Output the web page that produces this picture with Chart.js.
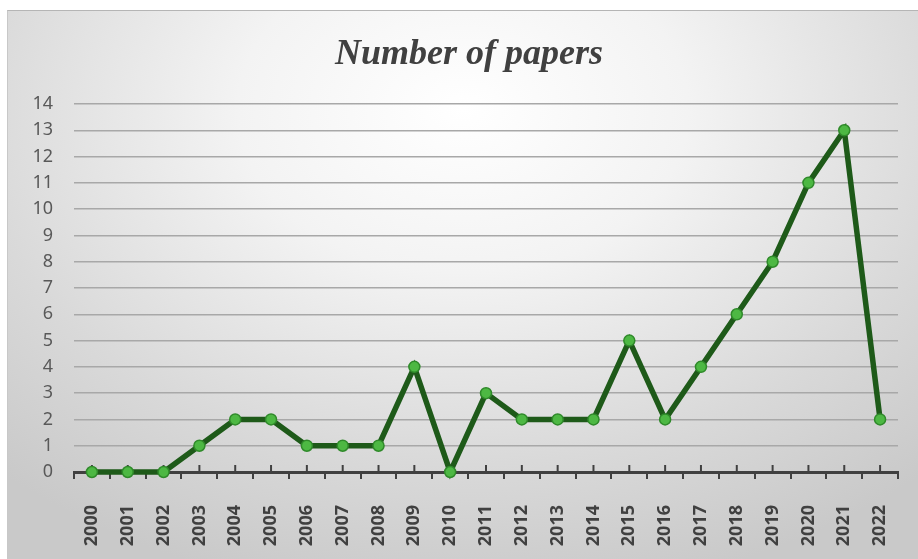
<!DOCTYPE html>
<html>
<head>
<meta charset="utf-8">
<script src="https://cdn.jsdelivr.net/npm/chart.js@4.4.1/dist/chart.umd.min.js"></script>
<style>
  body { margin: 0; background: #fff; }
  #box {
    position: absolute; left: 7px; top: 10px; width: 911px; height: 549px;
    border-top: 1px solid #b5b5b5; border-left: 1px solid #c8c8c8;
    box-sizing: border-box;
    background: radial-gradient(ellipse 75% 90% at 50% 18%, #ffffff 0%, #f3f3f3 33%, #d9d9d9 72%, #c9c9c9 100%);
  }
  canvas { display: block; }
</style>
</head>
<body>
<div id="box"><canvas id="papersChart" width="910" height="548"></canvas></div>
<script>
const years = ["2000", "2001", "2002", "2003", "2004", "2005", "2006", "2007", "2008", "2009", "2010", "2011",
  "2012", "2013", "2014", "2015", "2016", "2017", "2018", "2019", "2020", "2021", "2022"];
const papers = [0, 0, 0, 1, 2, 2, 1, 1, 1, 4, 0, 3, 2, 2, 2, 5, 2, 4, 6, 8, 11, 13, 2];
const yMax = 14;
const chartTitle = "Number of papers";

// small upward ticks at each category centre
const centreTicks = {
  id: "centreTicks",
  beforeDatasetsDraw(chart) {
    const xs = chart.scales.x;
    const ctx = chart.ctx;
    const y0 = xs.top;
    ctx.save();
    ctx.strokeStyle = "#404040";
    ctx.lineWidth = 2;
    years.forEach((_, i) => {
      const x = xs.getPixelForValue(i);
      ctx.beginPath();
      ctx.moveTo(x, y0);
      ctx.lineTo(x, y0 - 7);
      ctx.stroke();
    });
    ctx.restore();
  },
};

// title, a bit right of the canvas centre like the original
const titleText = {
  id: "titleText",
  afterDraw(chart) {
    const ctx = chart.ctx;
    ctx.save();
    ctx.fillStyle = "#404040";
    ctx.font = "italic bold 36px 'Liberation Serif'";
    ctx.textAlign = "center";
    ctx.textBaseline = "middle";
    ctx.fillText(chartTitle, 461, 44);
    ctx.restore();
  },
};

function initChart() {
  const ctx = document.getElementById("papersChart").getContext("2d");
  new Chart(ctx, {
    type: "line",
    data: {
      labels: years,
      datasets: [
        {
          label: chartTitle,
          data: papers,
          borderColor: "#1e5a19",
          borderWidth: 5.5,
          pointRadius: 5.5,
          pointBackgroundColor: "#4db843",
          pointBorderColor: "#2f8a2a",
          pointBorderWidth: 1.5,
          tension: 0,
          clip: false,
        },
      ],
    },
    options: {
      responsive: false,
      animation: false,
      layout: { padding: { left: 0, right: 20, top: 93, bottom: 0 } },
      plugins: {
        legend: { display: false },
        tooltip: { enabled: false },
        title: { display: false },
      },
      scales: {
        x: {
          offset: true,
          grid: {
            offset: true,
            drawOnChartArea: false,
            drawTicks: true,
            tickLength: 7,
            color: "#404040",
            lineWidth: 2,
          },
          border: { display: true, color: "#404040", width: 3 },
          ticks: {
            minRotation: 90,
            maxRotation: 90,
            autoSkip: false,
            padding: 26,
            color: "#404040",
            font: { family: "Noto Sans", size: 18, weight: "bold" },
          },
          afterFit(scale) {
            scale.height = 87;
            scale.paddingLeft = 0;
            scale.paddingRight = 0;
          },
        },
        y: {
          min: 0,
          max: yMax,
          grid: { color: "#a8a8a8", lineWidth: 1.5, drawTicks: false },
          border: { display: false },
          ticks: {
            stepSize: 1,
            padding: 21,
            color: "#595959",
            font: { family: "Noto Sans", size: 18 },
          },
          afterFit(scale) { scale.width = 66; },
        },
      },
    },
    plugins: [centreTicks, titleText],
  });
}

window.onload = initChart;
</script>
</body>
</html>
